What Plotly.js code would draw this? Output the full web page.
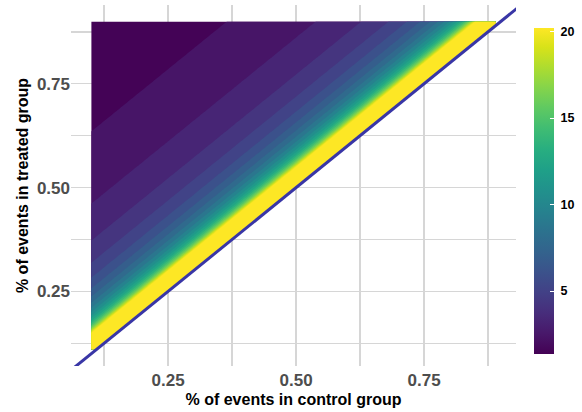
<!DOCTYPE html>
<html>
<head>
<meta charset="utf-8">
<script src="https://cdn.plot.ly/plotly-3.0.1.min.js"></script>
<style>html,body{margin:0;padding:0;background:#fff;}#chart{width:582px;height:412px;}</style>
</head>
<body>
<div id="chart"></div>
<script>
// % of events in control group (x grid)
var controlPct = [0.10,0.11,0.12,0.13,0.14,0.15,0.16,0.17,0.18,0.19,
  0.20,0.21,0.22,0.23,0.24,0.25,0.26,0.27,0.28,0.29,
  0.30,0.31,0.32,0.33,0.34,0.35,0.36,0.37,0.38,0.39,
  0.40,0.41,0.42,0.43,0.44,0.45,0.46,0.47,0.48,0.49,
  0.50,0.51,0.52,0.53,0.54,0.55,0.56,0.57,0.58,0.59,
  0.60,0.61,0.62,0.63,0.64,0.65,0.66,0.67,0.68,0.69,
  0.70,0.71,0.72,0.73,0.74,0.75,0.76,0.77,0.78,0.79,
  0.80,0.81,0.82,0.83,0.84,0.85,0.86,0.87,0.88,0.89];
// % of events in treated group (y grid)
var treatedPct = [0.11,0.12,0.13,0.14,0.15,0.16,0.17,0.18,0.19,0.20,
  0.21,0.22,0.23,0.24,0.25,0.26,0.27,0.28,0.29,0.30,
  0.31,0.32,0.33,0.34,0.35,0.36,0.37,0.38,0.39,0.40,
  0.41,0.42,0.43,0.44,0.45,0.46,0.47,0.48,0.49,0.50,
  0.51,0.52,0.53,0.54,0.55,0.56,0.57,0.58,0.59,0.60,
  0.61,0.62,0.63,0.64,0.65,0.66,0.67,0.68,0.69,0.70,
  0.71,0.72,0.73,0.74,0.75,0.76,0.77,0.78,0.79,0.80,
  0.81,0.82,0.83,0.84,0.85,0.86,0.87,0.88,0.89,0.90];
// value shown in each cell, by gap (treated - control) of 1..80 grid steps
var valueByGap = [100,50,33.33,25,20,16.67,14.29,12.5,11.11,10,
  9.09,8.33,7.69,7.14,6.67,6.25,5.88,5.56,5.26,5,
  4.76,4.55,4.35,4.17,4,3.85,3.7,3.57,3.45,3.33,
  3.23,3.13,3.03,2.94,2.86,2.78,2.7,2.63,2.56,2.5,
  2.44,2.38,2.33,2.27,2.22,2.17,2.13,2.08,2.04,2,
  1.96,1.92,1.89,1.85,1.82,1.79,1.75,1.72,1.69,1.67,
  1.64,1.61,1.59,1.56,1.54,1.52,1.49,1.47,1.45,1.43,
  1.41,1.39,1.37,1.35,1.33,1.32,1.3,1.28,1.27,1.25];
// colour bar
var barMin = 1.36, barMax = 20.2;
var barTicks = [5, 10, 15, 20];
var xTicks = [0.25, 0.5, 0.75], xTickText = ['0.25', '0.50', '0.75'];
var yTicks = [0.25, 0.5, 0.75], yTickText = ['0.25', '0.50', '0.75'];
var minorTicks = [0.125, 0.375, 0.625, 0.875];

var xRange = [0.0605, 0.9295];
var yRange = [0.0705, 0.9395];

// build z table (rows = treated, cols = control); empty triangle -> 0 (transparent)
var z = treatedPct.map(function (ty, i) {
  return controlPct.map(function (cx, j) {
    var gap = i - j + 1;
    return gap >= 1 ? valueByGap[gap - 1] : 0;
  });
});

var viridis = [[0,'#440154'],[0.06274509803921569,'#48186a'],[0.12549019607843137,'#472d7b'],
  [0.18823529411764706,'#424086'],[0.25098039215686274,'#3b528b'],[0.3137254901960784,'#33638d'],
  [0.3764705882352941,'#2c728e'],[0.4392156862745098,'#26828e'],[0.5019607843137255,'#21918c'],
  [0.5647058823529412,'#1fa088'],[0.6274509803921569,'#28ae80'],[0.6901960784313725,'#3fbc73'],
  [0.7529411764705882,'#5ec962'],[0.8156862745098039,'#84d44b'],[0.8784313725490196,'#addc30'],
  [0.9411764705882353,'#d8e219'],[1,'#fde725']];

// contour levels
var cStart = 0.07, cSize = 0.9, cEnd = 19.87;
var nc = Math.floor((cEnd + cSize / 1e6 - cStart) / cSize) + 1;
function pos(v) { return (v - cStart + cSize / 2) / (nc * cSize); }
var vmin = 1.3, vmax = 20;
var cs = [[0, 'rgba(68,1,84,0)'], [pos(0.8), 'rgba(68,1,84,0)']];
viridis.forEach(function (s) {
  cs.push([pos(vmin + s[0] * (vmax - vmin)), s[1]]);
});
cs.push([1, '#fde725']);

var gridCol = '#d6d6d6';
var font = 'Liberation Sans, Arial, sans-serif';

var traces = [
  {
    type: 'contour',
    x: controlPct, y: treatedPct, z: z,
    colorscale: cs,
    autocontour: false,
    contours: { start: cStart, end: cEnd, size: cSize, coloring: 'fill', showlines: false },
    line: { width: 0 },
    showscale: false,
    hoverinfo: 'skip'
  },
  {
    type: 'heatmap',
    z: [[barMin, barMax]],
    opacity: 0,
    colorscale: viridis,
    zmin: barMin, zmax: barMax,
    hoverinfo: 'skip',
    colorbar: {
      xref: 'container', x: 534 / 582, xanchor: 'left', xpad: 0,
      yref: 'container', y: 1 - 32 / 412, yanchor: 'top', ypad: 0,
      len: 326, lenmode: 'pixels', thickness: 20, thicknessmode: 'pixels',
      outlinewidth: 0, tickvals: barTicks,
      ticktext: barTicks.map(function (t) { return '\u00a0' + t; }),
      ticks: 'inside', ticklen: 4, tickcolor: '#ffffff', tickwidth: 1,
      tickfont: { family: font, size: 12.5, color: '#000000', weight: 'bold' }
    }
  }
];

var layout = {
  width: 582, height: 412,
  margin: { l: 71, r: 66, t: 5, b: 46 },
  paper_bgcolor: '#ffffff', plot_bgcolor: '#ffffff',
  showlegend: false,
  xaxis: {
    range: xRange, tickvals: xTicks, ticktext: xTickText,
    showgrid: true, gridcolor: gridCol, gridwidth: 1.5,
    minor: { tickvals: minorTicks, showgrid: true, gridcolor: gridCol, gridwidth: 1.5, ticks: '' },
    zeroline: false, showline: false, ticks: '', ticklabelstandoff: 2,
    tickfont: { family: font, size: 17, color: '#4d4d4d', weight: 'bold' },
    title: { text: '% of events in control group', font: { family: font, size: 16, color: '#000000', weight: 'bold' }, standoff: 4 }
  },
  yaxis: {
    range: yRange, tickvals: yTicks, ticktext: yTickText,
    showgrid: true, gridcolor: gridCol, gridwidth: 1.5,
    minor: { tickvals: minorTicks, showgrid: true, gridcolor: gridCol, gridwidth: 1.5, ticks: '' },
    zeroline: false, showline: false, ticks: '',
    tickfont: { family: font, size: 17, color: '#4d4d4d', weight: 'bold' },
    title: { text: '% of events in treated group', font: { family: font, size: 16, color: '#000000', weight: 'bold' }, standoff: 4 }
  },
  shapes: [{
    type: 'line', xref: 'x', yref: 'y',
    x0: xRange[0], y0: xRange[0], x1: yRange[1], y1: yRange[1],
    line: { color: '#3936a6', width: 3 }, layer: 'above'
  }]
};

Plotly.newPlot('chart', traces, layout, { displayModeBar: false, staticPlot: true });
</script>
</body>
</html>
